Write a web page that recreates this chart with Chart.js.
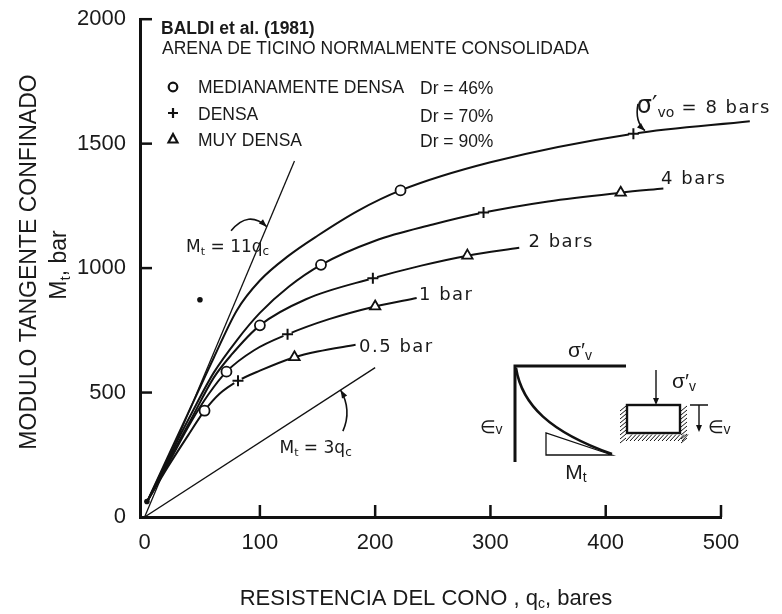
<!DOCTYPE html>
<html>
<head>
<meta charset="utf-8">
<script src="https://cdn.jsdelivr.net/npm/chart.js@4/dist/chart.umd.min.js"></script>
<style>
  html, body { margin: 0; padding: 0; background: #fff; }
  #wrap { width: 782px; height: 614px; position: relative; }
</style>
</head>
<body>
<div id="wrap"><canvas id="c" width="782" height="614"></canvas></div>
<script>
// Axis ticks
const qcTicks = [0, 100, 200, 300, 400, 500];
const mtTicks = [0, 500, 1000, 1500, 2000];

// Curves of constant vertical effective stress (qc in bar, Mt in bar)
const qc05 = [2, 20, 38, 52, 65, 81, 100, 130, 150, 183];
const mt05 = [60, 200, 330, 427, 495, 547, 588, 642, 665, 692];
const qc1 = [2, 20, 40, 55, 71, 95, 124, 160, 200, 236];
const mt1 = [60, 210, 380, 490, 584, 670, 734, 795, 846, 880];
const qc2 = [2, 20, 40, 60, 75, 100, 140, 198, 240, 280, 325];
const mt2 = [60, 220, 390, 560, 650, 770, 875, 959, 1010, 1050, 1082];
const qc4 = [2, 20, 40, 60, 80, 100, 125, 153, 200, 250, 294, 350, 413, 450];
const mt4 = [60, 230, 410, 580, 710, 820, 925, 1013, 1110, 1175, 1223, 1268, 1303, 1320];
const qc8 = [2, 20, 40, 60, 80, 100, 125, 150, 185, 222, 300, 424, 525];
const mt8 = [60, 240, 440, 640, 830, 950, 1050, 1130, 1230, 1312, 1425, 1540, 1590];

// Test points by relative density
const qcMed = [52, 71, 100, 153, 222];     // Dr = 46 %
const mtMed = [427, 584, 770, 1013, 1312];
const qcDen = [81, 124, 198, 294, 424];    // Dr = 70 %
const mtDen = [547, 734, 959, 1223, 1540];
const qcMuy = [130, 200, 280, 413];        // Dr = 90 %
const mtMuy = [642, 846, 1050, 1303];
const qcDot = [2, 48];
const mtDot = [62, 873];

// Reference lines Mt = 11 qc and Mt = 3 qc
const qcL11 = [0, 130];
const mtL11 = [0, 1430];
const qcL3 = [0, 200];
const mtL3 = [0, 600];

const pts = (q, m) => q.map((v, i) => ({ x: v, y: m[i] }));
const FONT = '"Liberation Sans", Arial, sans-serif';
const HAND = '"DejaVu Sans", sans-serif';
const INK = '#111';

function curve(q, m, extra) {
  return Object.assign({
    type: 'line', data: pts(q, m), borderColor: INK, borderWidth: 2,
    pointRadius: 0, cubicInterpolationMode: 'monotone', fill: false, order: 3
  }, extra || {});
}
function straight(q, m) {
  return { type: 'line', data: pts(q, m), borderColor: INK, borderWidth: 1.3,
           pointRadius: 0, tension: 0, fill: false, order: 3 };
}

// draw a run of text pieces (with subscripts) starting at x on baseline y
function rich(ctx, parts, x, y, align) {
  const widths = parts.map(p => {
    ctx.font = `${p.w || 'normal'} ${p.s}px ${p.f || FONT}`;
    ctx.letterSpacing = (p.ls || 0) + 'px';
    return ctx.measureText(p.t).width;
  });
  const total = widths.reduce((a, b) => a + b, 0);
  let cx = align === 'center' ? x - total / 2 : align === 'right' ? x - total : x;
  ctx.textAlign = 'left';
  ctx.textBaseline = 'alphabetic';
  parts.forEach((p, i) => {
    ctx.font = `${p.w || 'normal'} ${p.s}px ${p.f || FONT}`;
    ctx.letterSpacing = (p.ls || 0) + 'px';
    ctx.fillText(p.t, cx, y + (p.dy || 0));
    cx += widths[i];
  });
  ctx.letterSpacing = '0px';
}

function head(ctx, x, y, ang, len, wid) {
  ctx.beginPath();
  ctx.moveTo(x, y);
  ctx.lineTo(x - len * Math.cos(ang) + wid * Math.sin(ang), y - len * Math.sin(ang) - wid * Math.cos(ang));
  ctx.lineTo(x - len * Math.cos(ang) - wid * Math.sin(ang), y - len * Math.sin(ang) + wid * Math.cos(ang));
  ctx.closePath();
  ctx.fill();
}

function curvedArrow(ctx, p0, c, p1) {
  ctx.beginPath();
  ctx.moveTo(p0[0], p0[1]);
  ctx.quadraticCurveTo(c[0], c[1], p1[0], p1[1]);
  ctx.stroke();
  head(ctx, p1[0], p1[1], Math.atan2(p1[1] - c[1], p1[0] - c[0]), 8, 3);
}

const decor = {
  id: 'decor',
  afterDraw(chart) {
    const { ctx, chartArea } = chart;
    const xs = chart.scales.x, ys = chart.scales.y;
    const X = v => xs.getPixelForValue(v), Y = v => ys.getPixelForValue(v);
    ctx.save();
    ctx.fillStyle = '#1a1a1a';
    ctx.strokeStyle = INK;

    // inward tick marks
    ctx.lineWidth = 2.5;
    qcTicks.slice(1).forEach(v => {
      ctx.beginPath(); ctx.moveTo(X(v), chartArea.bottom); ctx.lineTo(X(v), chartArea.bottom - 12); ctx.stroke();
    });
    mtTicks.slice(1).forEach(v => {
      ctx.beginPath(); ctx.moveTo(chartArea.left, Y(v)); ctx.lineTo(chartArea.left + 12, Y(v)); ctx.stroke();
    });

    // axis titles
    ctx.save();
    ctx.translate(28, 262);
    ctx.rotate(-Math.PI / 2);
    rich(ctx, [{ t: 'MODULO TANGENTE CONFINADO', s: 23 }], 0, 8, 'center');
    ctx.restore();
    ctx.save();
    ctx.translate(58, 265);
    ctx.rotate(-Math.PI / 2);
    rich(ctx, [{ t: 'M', s: 23 }, { t: 't', s: 15, dy: 4 }, { t: ', bar', s: 23 }], 0, 8, 'center');
    ctx.restore();
    rich(ctx, [{ t: 'RESISTENCIA DEL CONO , q', s: 22 }, { t: 'c', s: 14, dy: 3 }, { t: ', bares', s: 22 }],
         426, 605, 'center');

    // key block
    rich(ctx, [{ t: 'BALDI et al. (1981)', s: 17.5, w: 'bold' }], 161, 34, 'left');
    rich(ctx, [{ t: 'ARENA DE TICINO NORMALMENTE CONSOLIDADA', s: 17.5 }], 162, 54, 'left');
    rich(ctx, [{ t: 'MEDIANAMENTE DENSA', s: 17.5 }], 198, 93, 'left');
    rich(ctx, [{ t: 'Dr = 46%', s: 17.5 }], 420, 94, 'left');
    rich(ctx, [{ t: 'DENSA', s: 17.5 }], 198, 120, 'left');
    rich(ctx, [{ t: 'Dr = 70%', s: 17.5 }], 420, 122, 'left');
    rich(ctx, [{ t: 'MUY DENSA', s: 17.5 }], 198, 146, 'left');
    rich(ctx, [{ t: 'Dr = 90%', s: 17.5 }], 420, 147, 'left');
    ctx.lineWidth = 2.2;
    ctx.beginPath(); ctx.arc(173, 87, 4.3, 0, Math.PI * 2); ctx.stroke();
    ctx.beginPath(); ctx.moveTo(168, 113); ctx.lineTo(178, 113); ctx.moveTo(173, 108); ctx.lineTo(173, 118); ctx.stroke();
    ctx.beginPath(); ctx.moveTo(173, 134); ctx.lineTo(177.5, 142.5); ctx.lineTo(168.5, 142.5); ctx.closePath(); ctx.stroke();

    // curve labels
    const lab = (t, q, m) => rich(ctx, [{ t, s: 18, f: HAND, ls: 1.5 }], X(q), Y(m) + 6.5, 'left');
    lab('0.5 bar', 186, 688);
    lab('1 bar', 238, 897);
    lab('2 bars', 333, 1112);
    lab('4 bars', 448, 1365);
    rich(ctx, [{ t: 'σ\u2032', s: 24, f: HAND }, { t: 'vo', s: 14, f: HAND, dy: 4 },
               { t: ' = 8 bars', s: 18, f: HAND, ls: 1.5 }], X(427), Y(1650) + 7, 'left');
    rich(ctx, [{ t: 'M', s: 17, f: HAND }, { t: 't', s: 11, f: HAND, dy: 3 },
               { t: ' = 11q', s: 17, f: HAND }, { t: 'c', s: 12, f: HAND, dy: 3 }], X(36), Y(1066), 'left');
    rich(ctx, [{ t: 'M', s: 17, f: HAND }, { t: 't', s: 11, f: HAND, dy: 3 },
               { t: ' = 3q', s: 17, f: HAND }, { t: 'c', s: 12, f: HAND, dy: 3 }], X(117), Y(259), 'left');

    // pointer arrows
    ctx.lineWidth = 1.6;
    ctx.fillStyle = INK;
    curvedArrow(ctx, [X(75), Y(1150)], [X(90), Y(1235)], [X(106), Y(1166)]);
    curvedArrow(ctx, [X(172), Y(345)], [X(180), Y(430)], [X(170), Y(510)]);
    curvedArrow(ctx, [X(428), Y(1660)], [X(425), Y(1590)], [X(434), Y(1552)]);

    // oedometer sketch
    ctx.lineWidth = 3;
    ctx.beginPath(); ctx.moveTo(515, 462); ctx.lineTo(515, 366); ctx.lineTo(626, 366); ctx.stroke();
    ctx.lineWidth = 2.6;
    ctx.beginPath(); ctx.moveTo(516, 368); ctx.bezierCurveTo(522, 405, 550, 432, 612, 454); ctx.stroke();
    ctx.lineWidth = 1.3;
    ctx.beginPath(); ctx.moveTo(546, 433); ctx.lineTo(546, 455); ctx.lineTo(612, 455); ctx.closePath(); ctx.stroke();
    ctx.fillStyle = '#1a1a1a';
    rich(ctx, [{ t: 'σ\u2032', s: 21 }, { t: 'v', s: 14, dy: 3 }], 580, 357, 'center');
    rich(ctx, [{ t: '\u2208', s: 18 }, { t: 'v', s: 14, dy: 1 }], 491, 433, 'center');
    rich(ctx, [{ t: 'M', s: 21 }, { t: 't', s: 14, dy: 3 }], 576, 479, 'center');
    ctx.lineWidth = 2.4;
    ctx.strokeRect(627, 405, 53, 28);
    ctx.lineWidth = 1;
    for (let yy = 407; yy <= 441; yy += 4) {
      ctx.beginPath(); ctx.moveTo(620, yy + 4); ctx.lineTo(626, yy - 1); ctx.stroke();
      ctx.beginPath(); ctx.moveTo(681, yy + 4); ctx.lineTo(687, yy - 1); ctx.stroke();
    }
    for (let xx = 626; xx <= 684; xx += 4) {
      ctx.beginPath(); ctx.moveTo(xx, 441); ctx.lineTo(xx + 6, 434.5); ctx.stroke();
    }
    ctx.lineWidth = 1.4;
    ctx.fillStyle = INK;
    ctx.beginPath(); ctx.moveTo(656, 370); ctx.lineTo(656, 400); ctx.stroke();
    head(ctx, 656, 405, Math.PI / 2, 7, 3);
    ctx.beginPath(); ctx.moveTo(690, 405); ctx.lineTo(708, 405); ctx.moveTo(699, 405); ctx.lineTo(699, 427); ctx.stroke();
    head(ctx, 699, 432, Math.PI / 2, 7, 3);
    ctx.fillStyle = '#1a1a1a';
    rich(ctx, [{ t: 'σ\u2032', s: 21 }, { t: 'v', s: 14, dy: 3 }], 684, 388, 'center');
    rich(ctx, [{ t: '\u2208', s: 18 }, { t: 'v', s: 14, dy: 1 }], 719, 433, 'center');

    ctx.restore();
  }
};

new Chart(document.getElementById('c'), {
  data: {
    datasets: [
      { type: 'scatter', data: pts(qcMed, mtMed), pointStyle: 'circle', pointRadius: 5,
        pointBackgroundColor: '#fff', pointBorderColor: INK, pointBorderWidth: 1.8, order: 0 },
      { type: 'scatter', data: pts(qcDen, mtDen), pointStyle: 'cross', pointRadius: 5.5,
        pointBorderColor: INK, pointBorderWidth: 2, order: 0 },
      { type: 'scatter', data: pts(qcMuy, mtMuy), pointStyle: 'triangle', pointRadius: 6,
        pointBackgroundColor: '#fff', pointBorderColor: INK, pointBorderWidth: 1.8, order: 0 },
      { type: 'scatter', data: pts(qcDot, mtDot), pointStyle: 'circle', pointRadius: 2.8,
        pointBackgroundColor: INK, pointBorderColor: INK, pointBorderWidth: 0, order: 0 },
      // white gaps around the crosses
      { type: 'scatter', data: pts(qcDen, mtDen), pointStyle: 'circle', pointRadius: 4.5,
        pointBackgroundColor: '#fff', pointBorderWidth: 0, order: 1 },
      curve(qc05, mt05),
      curve(qc1, mt1),
      curve(qc2, mt2),
      curve(qc4, mt4),
      curve(qc8, mt8, { clip: false }),
      straight(qcL11, mtL11),
      straight(qcL3, mtL3)
    ]
  },
  options: {
    responsive: false,
    animation: false,
    events: [],
    layout: { padding: { top: 16, right: 61, bottom: 0, left: 0 } },
    plugins: { legend: { display: false }, tooltip: { enabled: false } },
    scales: {
      x: {
        type: 'linear', min: -4, max: 500,
        afterBuildTicks: s => { s.ticks = qcTicks.map(v => ({ value: v })); },
        afterFit: s => { s.height = 97; },
        grid: { display: false },
        border: { display: true, color: INK, width: 3 },
        ticks: { font: { family: FONT, size: 22 }, color: '#1a1a1a', padding: 5, maxRotation: 0,
                 autoSkip: false, callback: v => String(v) }
      },
      y: {
        type: 'linear', min: 0, max: 2000,
        afterBuildTicks: s => { s.ticks = mtTicks.map(v => ({ value: v })); },
        afterFit: s => { s.width = 140; },
        grid: { display: false },
        border: { display: true, color: INK, width: 3 },
        ticks: { font: { family: FONT, size: 22 }, color: '#1a1a1a', padding: 6, autoSkip: false,
                 callback: v => String(v) }
      }
    }
  },
  plugins: [decor]
});
</script>
</body>
</html>
